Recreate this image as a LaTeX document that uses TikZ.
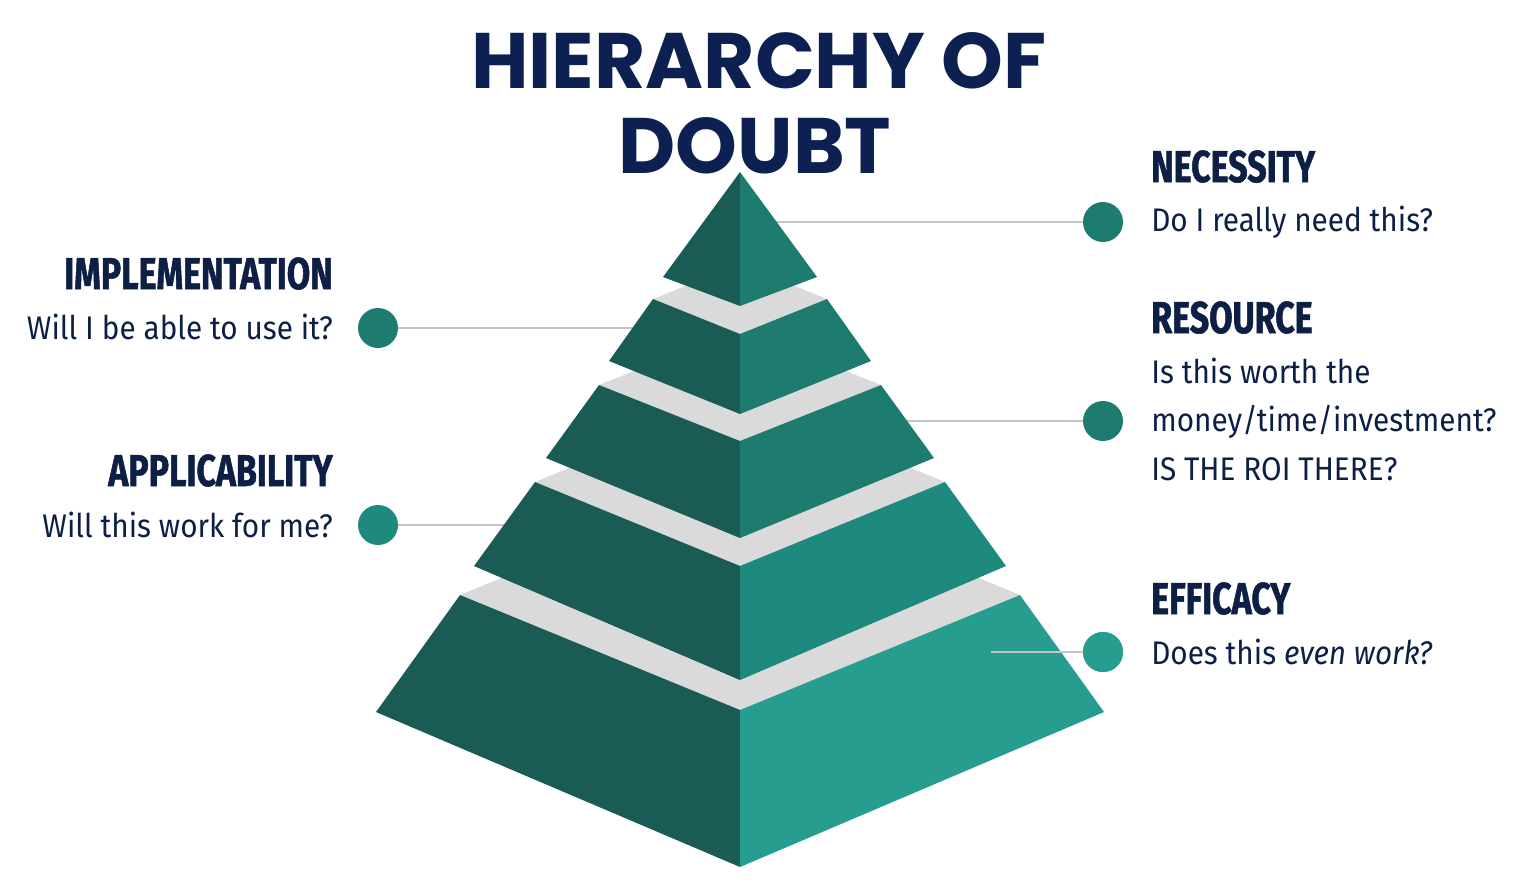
\documentclass[tikz,border=0pt]{standalone}
\usepackage{fontspec}
\setmainfont[FakeStretch=0.91]{Fira Sans}
\newfontfamily\titlefont{Poppins}
\newfontfamily\headfont[FakeStretch=0.76,FakeBold=1.2]{Fira Sans}
\usepackage{tikz}
\definecolor{navy}{RGB}{12,33,82}
\definecolor{inkblue}{RGB}{14,31,70}
\definecolor{faceDark}{RGB}{26,92,85}
\definecolor{faceMid}{RGB}{29,123,112}
\definecolor{faceLight}{RGB}{30,137,125}
\definecolor{faceBright}{RGB}{39,157,143}
\definecolor{topGray}{RGB}{218,218,218}
\definecolor{lineGray}{RGB}{196,196,196}

\begin{document}
\begin{tikzpicture}[x=0.75pt,y=0.75pt,yscale=-1,xscale=1,
    titletext/.style={inner sep=0,text=navy,font=\titlefont\bfseries\fontsize{59}{66}\selectfont},
    headtext/.style={inner sep=0,text=inkblue,font=\headfont\bfseries\fontsize{33.5}{40}\selectfont},
    asktext/.style={inner sep=0,text=inkblue,font=\fontsize{24.5}{30}\selectfont},
    dot/.style={circle,inner sep=0,minimum size=30pt},
    leader/.style={draw=lineGray,line width=1.5pt},
    leftface/.style={fill=faceDark},
    topface/.style={fill=topGray}]

    \useasboundingbox (0,0) rectangle (1540,886);

    %Title
    \node[titletext,anchor=base] (title1) at (759,88) {HIERARCHY OF};
    \node[titletext,anchor=base] (title2) at (755,173) {DOUBT};

    %Dots
    \node[dot,fill=faceMid] (necdot) at (1103,222) {};
    \node[dot,fill=faceMid] (impdot) at (378,328) {};
    \node[dot,fill=faceMid] (resdot) at (1103,421) {};
    \node[dot,fill=faceLight] (appdot) at (378,525) {};
    \node[dot,fill=faceBright] (effdot) at (1103,652) {};

    %Leader ends on the pyramid
    \coordinate (necend) at (760,222);
    \coordinate (impend) at (700,328);
    \coordinate (resend) at (800,421);
    \coordinate (append) at (600,525);
    \coordinate (effend) at (991,652);

    %Leaders behind the pyramid
    \draw[leader] (necend) -- (necdot);
    \draw[leader] (impdot) -- (impend);
    \draw[leader] (resend) -- (resdot);
    \draw[leader] (appdot) -- (append);

    %Tier 5
    \fill[topface] (460,595) -- (740,480) -- (1020,595) -- (740,710) -- cycle;
    \fill[leftface] (460,595) -- (740,710) -- (740,867) -- (376,712) -- cycle;
    \fill[fill=faceBright] (740,710) -- (1020,595) -- (1104,712) -- (740,867) -- cycle;
    %Tier 4
    \fill[topface] (535,482) -- (740,398) -- (945,482) -- (740,566) -- cycle;
    \fill[leftface] (535,482) -- (740,566) -- (740,680) -- (474,566) -- cycle;
    \fill[fill=faceLight] (740,566) -- (945,482) -- (1006,566) -- (740,680) -- cycle;
    %Tier 3
    \fill[topface] (599,385) -- (740,329) -- (881,385) -- (740,441) -- cycle;
    \fill[leftface] (599,385) -- (740,441) -- (740,538) -- (546,458) -- cycle;
    \fill[fill=faceMid] (740,441) -- (881,385) -- (934,458) -- (740,538) -- cycle;
    %Tier 2
    \fill[topface] (653,299) -- (740,264) -- (827,299) -- (740,334) -- cycle;
    \fill[leftface] (653,299) -- (740,334) -- (740,414) -- (609,361) -- cycle;
    \fill[fill=faceMid] (740,334) -- (827,299) -- (871,361) -- (740,414) -- cycle;
    %Tier 1
    \fill[leftface] (740,172) -- (740,306) -- (663,277) -- cycle;
    \fill[fill=faceMid] (740,172) -- (817,277) -- (740,306) -- cycle;

    %Leader over the bottom tier
    \draw[leader] (effend) -- (effdot);
    \node[dot,fill=faceBright] at (effdot) {};

    %Labels right
    \node[headtext,anchor=base west] (nechead) at (1151,182) {NECESSITY};
    \node[asktext,anchor=base west] (necask) at (1151,231) {Do I really need this?};
    \node[headtext,anchor=base west] (reshead) at (1151,333) {RESOURCE};
    \node[asktext,anchor=base west] (resask1) at (1151,383) {Is this worth the};
    \node[asktext,anchor=base west] (resask2) at (1151,431) {money/time/investment?};
    \node[asktext,anchor=base west] (resask3) at (1151,480) {IS THE ROI THERE?};
    \node[headtext,anchor=base west] (effhead) at (1151,614) {EFFICACY};
    \node[asktext,anchor=base west] (effask) at (1151,664) {Does this \textit{even work?}};

    %Labels left
    \node[headtext,anchor=base east] (imphead) at (333,289) {IMPLEMENTATION};
    \node[asktext,anchor=base east] (impask) at (333,339) {Will I be able to use it?};
    \node[headtext,anchor=base east] (apphead) at (333,486) {APPLICABILITY};
    \node[asktext,anchor=base east] (appask) at (333,537) {Will this work for me?};

\end{tikzpicture}
\end{document}
